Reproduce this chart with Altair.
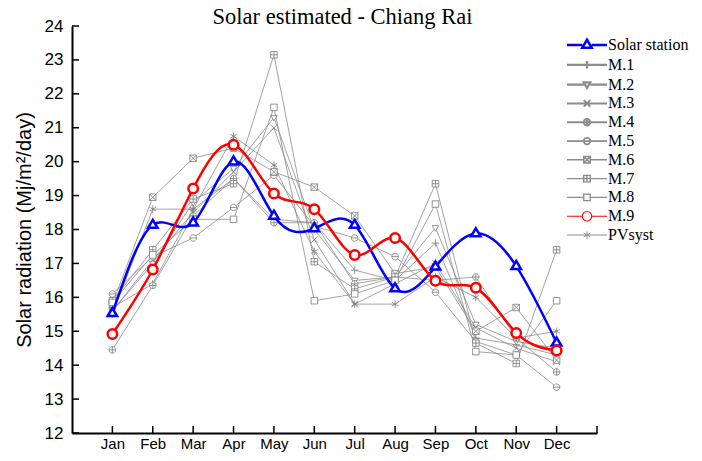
import altair as alt
import pandas as pd

months = ["Jan", "Feb", "Mar", "Apr", "May", "Jun", "Jul", "Aug", "Sep", "Oct", "Nov", "Dec"]
series_names = ["Solar station", "M.1", "M.2", "M.3", "M.4", "M.5", "M.6", "M.7", "M.8", "M.9", "PVsyst"]

solar_station = [15.53, 18.13, 18.20, 20.00, 18.40, 18.03, 18.13, 16.26, 16.90, 17.88, 16.92, 14.66]
m1 = [15.70, 16.40, 18.60, 19.50, 18.30, 18.20, 16.80, 16.50, 17.60, 14.80, 14.60, 14.30]
m2 = [15.60, 17.00, 18.80, 19.80, 21.30, 18.00, 16.50, 16.60, 18.05, 15.20, 14.70, 14.50]
m3 = [15.60, 17.10, 18.50, 19.70, 21.00, 17.70, 15.80, 16.40, 17.00, 15.10, 14.50, 14.10]
m4 = [14.45, 16.35, 18.40, 19.50, 18.20, 18.20, 16.40, 16.60, 16.50, 16.60, 14.80, 13.80]
m5 = [16.10, 17.20, 17.75, 18.65, 19.60, 18.10, 17.75, 17.20, 16.15, 14.70, 14.30, 13.35]
m6 = [15.80, 18.95, 20.10, 20.40, 19.70, 19.25, 18.40, 16.70, 16.90, 15.00, 15.70, 14.15]
m7 = [15.90, 17.40, 18.90, 19.35, 23.15, 17.05, 16.25, 16.60, 19.35, 14.65, 14.05, 17.40]
m8 = [15.85, 17.25, 18.30, 18.30, 21.60, 15.90, 16.10, 16.50, 18.75, 14.40, 14.30, 15.90]
m9 = [14.92, 16.82, 19.21, 20.50, 19.06, 18.60, 17.25, 17.75, 16.49, 16.28, 14.95, 14.43]
pvsyst = [15.50, 18.60, 18.60, 20.75, 19.90, 17.35, 15.80, 15.80, 16.60, 16.00, 14.80, 15.00]

y_ticks = list(range(12, 25))
x_ticks = list(range(1, 14))

all_values = [solar_station, m1, m2, m3, m4, m5, m6, m7, m8, m9, pvsyst]
rows = []
for name, vals in zip(series_names, all_values):
    for i, v in enumerate(vals):
        rows.append({"series": name, "idx": i + 1, "month": months[i], "value": v})
df = pd.DataFrame(rows)


def circ(r):
    return f"M{r},0A{r},{r},0,1,1,{-r},0A{r},{r},0,1,1,{r},0Z"


def sq(r):
    return f"M{-r},{-r}H{r}V{r}H{-r}Z"


g = 0.65
markers = {
    "Solar station": "M0,-1.05L0.95,0.55L-0.95,0.55Z",
    "M.1": f"M{-g-0.1},0H{g+0.1}M0,{-g-0.1}V{g+0.1}",
    "M.2": f"M{-g},{-0.45}L{g},{-0.45}L0,{g+0.05}Z",
    "M.3": f"M{-g},{-g}L{g},{g}M{-g},{g}L{g},{-g}",
    "M.4": circ(g) + f"M{-g},0H{g}M0,{-g}V{g}",
    "M.5": circ(g) + f"M{-g},0H{g}",
    "M.6": sq(g) + f"M{-g},{-g}L{g},{g}M{-g},{g}L{g},{-g}",
    "M.7": sq(g) + f"M{-g},0H{g}M0,{-g}V{g}",
    "M.8": sq(g),
    "M.9": circ(0.95),
    "PVsyst": f"M0,{-g-0.1}V{g+0.1}M{-g},{-0.4}L{g},{0.4}M{-g},{0.4}L{g},{-0.4}",
}
gaps = {"Solar station": 0.95, "M.2": g, "M.4": g, "M.5": g, "M.6": g, "M.7": g, "M.8": g, "M.9": 0.95}


def legend_path(name):
    r = gaps.get(name, 0)
    line = f"M-4,0H{-r}M{r},0H4" if r else "M-4,0H4"
    return line + markers[name]


marker_range = [markers[s] for s in series_names]
legend_range = [legend_path(s) for s in series_names]
color_range = ["#0000ff"] + ["#8c8c8c"] * 8 + ["#ff0000", "#8c8c8c"]
width_range = [2.5] + [1.0] * 8 + [2.5, 1.0]

label_expr = "[" + ",".join(f"'{m}'" for m in months) + "][datum.value - 1]"

x_enc = alt.X(
    "idx:Q",
    scale=alt.Scale(domain=[0, 13], nice=False, zero=False),
    axis=alt.Axis(values=list(range(1, 13)), labelExpr=label_expr, title=None,
                  ticks=False, grid=False, labelFontSize=15, labelPadding=3,
                  domainWidth=2, domainColor="black"),
)
y_enc = alt.Y(
    "value:Q",
    scale=alt.Scale(domain=[12, 24], nice=False, zero=False),
    axis=alt.Axis(values=y_ticks, title="Solar radiation (Mj/m²/day)", ticks=False,
                  grid=False, labelFontSize=17, labelPadding=9, titleFontSize=20,
                  titlePadding=10, domainWidth=2, domainColor="black"),
)

gray_names = [s for s in series_names if s not in ("Solar station", "M.9")]
gray_df = df[df["series"].isin(gray_names)]
blue_df = df[df["series"] == "Solar station"]
red_df = df[df["series"] == "M.9"]

shape_enc = alt.Shape("series:N", scale=alt.Scale(domain=series_names, range=marker_range), legend=None)

gray_lines = alt.Chart(gray_df).mark_line(color="#8c8c8c", strokeWidth=0.8).encode(
    x=x_enc, y=y_enc, detail="series:N", order="idx:Q")
gray_pts = alt.Chart(gray_df).mark_point(filled=False, fill="white", stroke="#7a7a7a",
                                         strokeWidth=0.8, size=100, opacity=1).encode(
    x=x_enc, y=y_enc, shape=shape_enc)
blue_line = alt.Chart(blue_df).mark_line(color="#0000ff", strokeWidth=2.5, interpolate="natural").encode(
    x=x_enc, y=y_enc, order="idx:Q")
blue_pts = alt.Chart(blue_df).mark_point(filled=False, fill="white", stroke="#0000ff",
                                         strokeWidth=2.5, size=100, opacity=1).encode(
    x=x_enc, y=y_enc, shape=shape_enc)
red_line = alt.Chart(red_df).mark_line(color="#ff0000", strokeWidth=2.5, interpolate="natural").encode(
    x=x_enc, y=y_enc, order="idx:Q")
red_pts = alt.Chart(red_df).mark_point(filled=False, fill="white", stroke="#ff0000",
                                       strokeWidth=2.5, size=100, opacity=1).encode(
    x=x_enc, y=y_enc, shape=shape_enc)

ytick_layer = alt.Chart(pd.DataFrame({"value": y_ticks})).mark_rule(color="black", strokeWidth=1.5).encode(
    y=y_enc, x=alt.value(0), x2=alt.value(7))
xtick_layer = alt.Chart(pd.DataFrame({"idx": x_ticks})).mark_rule(color="black", strokeWidth=1.5).encode(
    x=x_enc, y=alt.value(407), y2=alt.value(400))

leg = alt.Legend(title=None, orient="none", legendX=507, legendY=11, labelFont="Liberation Serif",
                 labelFontSize=16, labelFontWeight="normal", labelColor="black", labelOffset=13,
                 rowPadding=2.8, padding=0)
legend_layer = alt.Chart(df).transform_filter("false").mark_point(filled=False, size=100, opacity=1).encode(
    x=x_enc, y=y_enc,
    color=alt.Color("series:N", scale=alt.Scale(domain=series_names, range=color_range), legend=leg),
    shape=alt.Shape("series:N", scale=alt.Scale(domain=series_names, range=legend_range), legend=leg),
    strokeWidth=alt.StrokeWidth("series:N", scale=alt.Scale(domain=series_names, range=width_range), legend=leg),
)

chart = alt.layer(
    gray_lines, gray_pts, blue_line, blue_pts, red_line, red_pts, ytick_layer, xtick_layer, legend_layer
).resolve_scale(shape="independent", color="independent", strokeWidth="independent").properties(
    width=525, height=407,
    autosize=alt.AutoSizeParams(type="none"),
    padding={"left": 64, "top": 18, "right": 97, "bottom": 20},
    title=alt.Title("Solar estimated - Chiang Rai", font="Liberation Serif", fontSize=22.5,
                    fontWeight="normal", color="black", anchor="middle", frame="group",
                    dx=8, dy=15, offset=4),
).configure_view(stroke=None).configure_axis(
    labelFont="Liberation Sans", titleFont="Liberation Sans", labelColor="black",
    titleColor="black", titleFontWeight="normal"
)

chart.save("out.html", embed_options={"renderer": "svg", "actions": False})
